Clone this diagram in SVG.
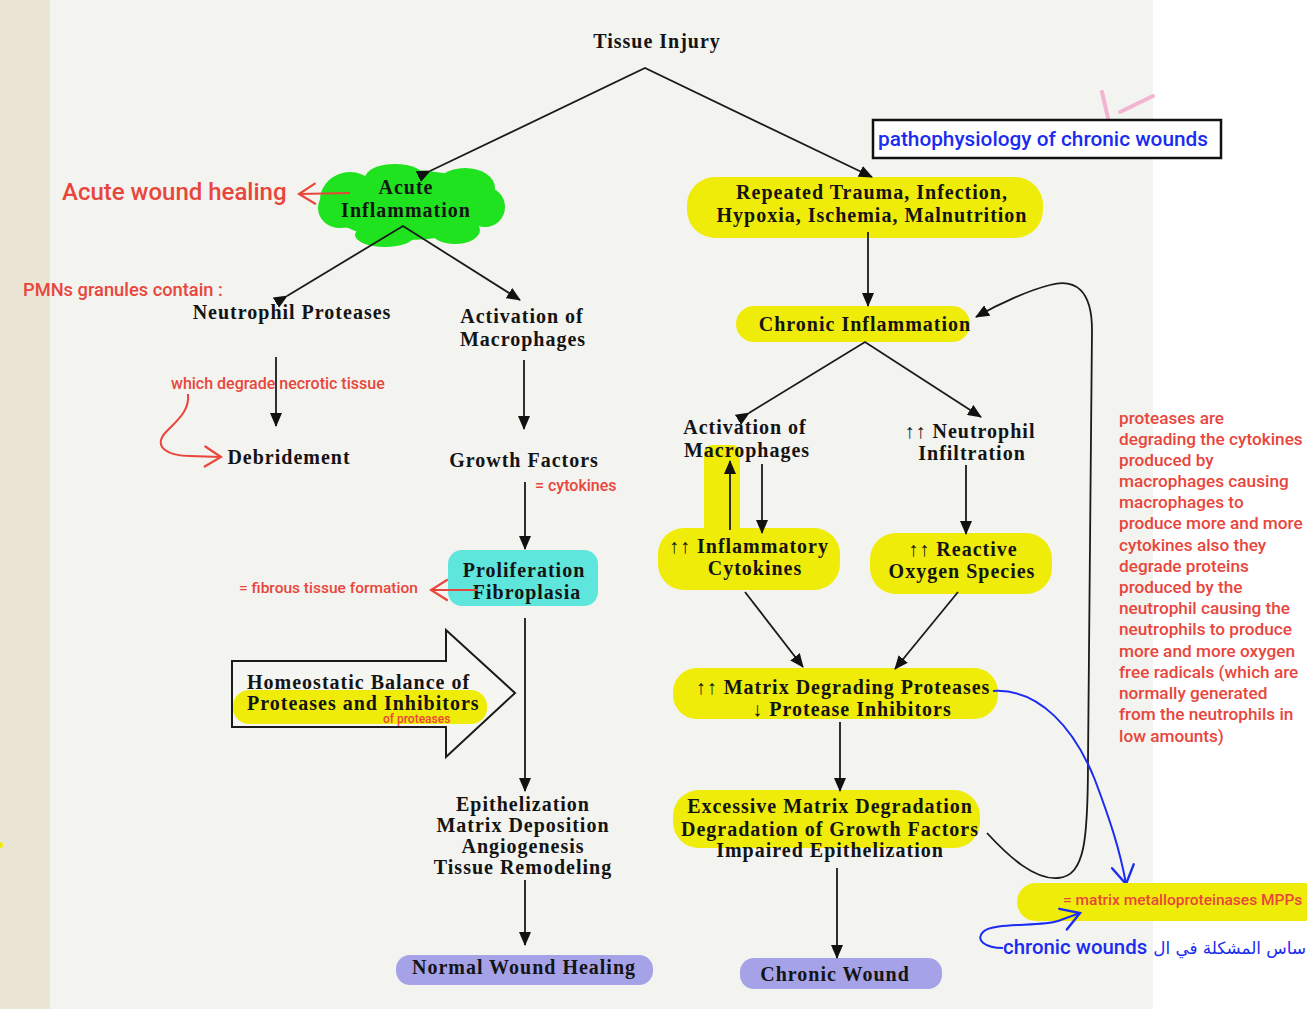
<svg xmlns="http://www.w3.org/2000/svg" width="1307" height="1009" viewBox="0 0 1307 1009">
<style>
.t{font-family:"Liberation Serif","DejaVu Serif",serif;font-weight:bold;font-size:20px;fill:#141414;text-anchor:middle;letter-spacing:1px}
.tl{text-anchor:start}
.ln{stroke:#1a1a1a;stroke-width:1.8;fill:none}
.red{font-family:Roboto,"Liberation Sans",sans-serif;font-weight:500;fill:#e8463c}
.blue{font-family:Roboto,"Liberation Sans",sans-serif;font-weight:500;fill:#1a2cf0}
.yel{fill:#f0ec0a}
.rp{stroke:#e8463c;stroke-width:2;fill:none}
.bp{stroke:#1a2cf0;stroke-width:2;fill:none}
</style>
<defs>
<marker id="ah" viewBox="0 0 14 12" refX="13" refY="6" markerWidth="14" markerHeight="12" orient="auto" markerUnits="userSpaceOnUse"><path d="M0,0 L14,6 L0,12 z" fill="#111"/></marker>
<marker id="ra" viewBox="0 0 20 24" refX="18" refY="12" markerWidth="20" markerHeight="24" orient="auto" markerUnits="userSpaceOnUse"><path d="M2,2 L18,12 L2,22" fill="none" stroke="#e8463c" stroke-width="2.2" stroke-linecap="round"/></marker>
<marker id="ba" viewBox="0 0 22 26" refX="20" refY="13" markerWidth="22" markerHeight="26" orient="auto" markerUnits="userSpaceOnUse"><path d="M2,2 L20,13 L2,24" fill="none" stroke="#1a2cf0" stroke-width="2.4" stroke-linecap="round"/></marker>
</defs>
<rect width="1307" height="1009" fill="#ffffff"/>
<rect x="0" y="0" width="50" height="1009" fill="#ebe5d5"/>
<rect x="50" y="0" width="1103" height="1009" fill="#f3f3ef"/>
<circle cx="0" cy="845" r="3" fill="#f0ec0a"/>
<g opacity="0.7" stroke="#f29ac4" stroke-width="4" fill="none" stroke-linecap="round">
<path d="M1102,92 L1108,118"/><path d="M1120,112 L1153,96"/>
</g>

<g id="tissue-injury"><text class="t" x="657" y="48">Tissue Injury</text></g>

<g id="acute-inflammation">
<g fill="#1fe31f">
<ellipse cx="410" cy="205" rx="82" ry="35"/>
<ellipse cx="350" cy="200" rx="30" ry="28"/><ellipse cx="340" cy="208" rx="22" ry="20"/>
<ellipse cx="395" cy="178" rx="30" ry="14"/><ellipse cx="465" cy="188" rx="30" ry="20"/>
<ellipse cx="485" cy="207" rx="20" ry="20"/><ellipse cx="455" cy="230" rx="25" ry="14"/><ellipse cx="385" cy="235" rx="30" ry="12"/>
</g>
<text class="t" x="406" y="194">Acute</text>
<text class="t" x="406" y="217">Inflammation</text>
</g>

<g id="neutrophil-proteases"><text class="t" x="292" y="319">Neutrophil Proteases</text></g>
<g id="activation-macrophages-1"><text class="t" x="522" y="323">Activation of</text><text class="t" x="523" y="346">Macrophages</text></g>
<g id="debridement"><text class="t" x="289" y="464">Debridement</text></g>
<g id="growth-factors"><text class="t" x="524" y="467">Growth Factors</text></g>
<g id="proliferation">
<rect x="448" y="550" width="150" height="56" rx="14" fill="#5fe6dc"/>
<text class="t" x="524" y="577">Proliferation</text><text class="t" x="527" y="599">Fibroplasia</text>
</g>
<g id="homeostatic">
<path d="M232,661 L446,661 L446,630 L515,693 L446,757 L446,727 L232,727 Z" fill="#f5f5f2" stroke="#1a1a1a" stroke-width="2"/>
<rect x="233" y="690" width="254" height="34" rx="16" class="yel"/>
<text class="t tl" x="247" y="689">Homeostatic Balance of</text>
<text class="t tl" x="247" y="710">Proteases and Inhibitors</text>
<text class="red" x="383" y="723" font-size="12">of proteases</text>
</g>
<g id="epithelization">
<text class="t" x="523" y="811">Epithelization</text>
<text class="t" x="523" y="832">Matrix Deposition</text>
<text class="t" x="523" y="853">Angiogenesis</text>
<text class="t" x="523" y="874">Tissue Remodeling</text>
</g>
<g id="normal-wound-healing">
<rect x="396" y="955" width="257" height="30" rx="14" fill="#a6a2e8"/>
<text class="t" x="524" y="974">Normal Wound Healing</text>
</g>

<g id="title-box">
<rect x="873" y="120" width="348" height="38" fill="#ffffff" stroke="#111" stroke-width="2.5"/>
<text class="blue" x="878" y="146" font-size="20.8">pathophysiology of chronic wounds</text>
</g>
<g id="repeated-trauma">
<rect x="687" y="177" width="356" height="61" rx="28" class="yel"/>
<text class="t" x="872" y="199">Repeated Trauma, Infection,</text>
<text class="t" x="872" y="222">Hypoxia, Ischemia, Malnutrition</text>
</g>
<g id="chronic-inflammation">
<rect x="736" y="306" width="234" height="36" rx="18" class="yel"/>
<text class="t" x="865" y="331">Chronic Inflammation</text>
</g>
<g id="inflammatory-cytokines">
<rect x="704" y="445" width="36" height="100" rx="8" class="yel"/>
<rect x="658" y="528" width="182" height="62" rx="26" class="yel"/>
<text class="t" x="749" y="553">↑↑ Inflammatory</text><text class="t" x="755" y="575">Cytokines</text>
</g>
<g id="activation-macrophages-2"><text class="t" x="745" y="434">Activation of</text><text class="t" x="747" y="457">Macrophages</text></g>
<g id="neutrophil-infiltration"><text class="t" x="970" y="438">↑↑ Neutrophil</text><text class="t" x="972" y="460">Infiltration</text></g>
<g id="reactive-oxygen">
<rect x="870" y="533" width="182" height="61" rx="26" class="yel"/>
<text class="t" x="963" y="556">↑↑ Reactive</text><text class="t" x="962" y="578">Oxygen Species</text>
</g>
<g id="matrix-proteases">
<rect x="673" y="668" width="325" height="51" rx="24" class="yel"/>
<text class="t" x="843" y="694">↑↑ Matrix Degrading Proteases</text><text class="t" x="852" y="716">↓ Protease Inhibitors</text>
</g>
<g id="excessive-degradation">
<rect x="673" y="790" width="307" height="58" rx="26" class="yel"/>
<text class="t" x="830" y="813">Excessive Matrix Degradation</text>
<text class="t" x="830" y="836">Degradation of Growth Factors</text>
<text class="t" x="830" y="857">Impaired Epithelization</text>
</g>
<g id="chronic-wound">
<rect x="740" y="958" width="202" height="31" rx="14" fill="#a6a2e8"/>
<text class="t" x="835" y="981">Chronic Wound</text>
</g>

<g id="connectors">
<path class="ln" d="M430,171 L645,68 L872,177" marker-start="url(#ah)" marker-end="url(#ah)"/>
<path class="ln" d="M287,296 L403,226 L520,300" marker-start="url(#ah)" marker-end="url(#ah)"/>
<line class="ln" x1="276" y1="357" x2="276" y2="426" marker-end="url(#ah)"/>
<line class="ln" x1="524" y1="360" x2="524" y2="429" marker-end="url(#ah)"/>
<line class="ln" x1="525" y1="482" x2="525" y2="549" marker-end="url(#ah)"/>
<line class="ln" x1="525" y1="618" x2="525" y2="791" marker-end="url(#ah)"/>
<line class="ln" x1="525" y1="880" x2="525" y2="945" marker-end="url(#ah)"/>
<line class="ln" x1="868" y1="232" x2="868" y2="306" marker-end="url(#ah)"/>
<path class="ln" d="M749,413 L865,342 L981,417" marker-start="url(#ah)" marker-end="url(#ah)"/>
<line class="ln" x1="730" y1="530" x2="730" y2="461" marker-end="url(#ah)"/>
<line class="ln" x1="762" y1="464" x2="762" y2="533" marker-end="url(#ah)"/>
<line class="ln" x1="966" y1="465" x2="966" y2="534" marker-end="url(#ah)"/>
<line class="ln" x1="745" y1="592" x2="803" y2="667" marker-end="url(#ah)"/>
<line class="ln" x1="958" y1="592" x2="895" y2="669" marker-end="url(#ah)"/>
<line class="ln" x1="840" y1="722" x2="840" y2="791" marker-end="url(#ah)"/>
<line class="ln" x1="837" y1="868" x2="837" y2="958" marker-end="url(#ah)"/>
<path class="ln" d="M987,833 C1010,858 1035,880 1058,878 C1085,876 1088,840 1088,760 L1092,330 C1092,290 1075,278 1050,285 C1030,290 1000,303 976,317" marker-end="url(#ah)"/>
</g>

<g id="annotations">
<path class="rp" d="M350,193 L299,194" marker-end="url(#ra)"/>
<text class="red" x="62" y="200" font-size="24">Acute wound healing</text>
<text class="red" x="23" y="296" font-size="18.3">PMNs granules contain :</text>
<text class="red" x="171" y="389" font-size="16">which degrade necrotic tissue</text>
<path class="rp" d="M188,394 C190,412 175,422 165,433 C153,447 168,456 190,456 L221,457" marker-end="url(#ra)"/>
<text class="red" x="535" y="491" font-size="16">= cytokines</text>
<path class="rp" d="M478,590 L431,590" marker-end="url(#ra)"/>
<text class="red" x="239" y="593" font-size="15.5">= fibrous tissue formation</text>
<g class="red" font-size="17.2">
<text x="1119" y="424">proteases are</text>
<text x="1119" y="445">degrading the cytokines</text>
<text x="1119" y="466">produced by</text>
<text x="1119" y="487">macrophages causing</text>
<text x="1119" y="508">macrophages to</text>
<text x="1119" y="529">produce more and more</text>
<text x="1119" y="551">cytokines also they</text>
<text x="1119" y="572">degrade proteins</text>
<text x="1119" y="593">produced by the</text>
<text x="1119" y="614">neutrophil causing the</text>
<text x="1119" y="635">neutrophils to produce</text>
<text x="1119" y="657">more and more oxygen</text>
<text x="1119" y="678">free radicals (which are</text>
<text x="1119" y="699">normally generated</text>
<text x="1119" y="720">from the neutrophils in</text>
<text x="1119" y="742">low amounts)</text>
</g>
<path class="bp" d="M993,691 C1040,688 1075,730 1095,780 C1110,820 1120,850 1126,884" marker-end="url(#ba)"/>
<rect x="1017" y="883" width="310" height="38" rx="19" class="yel"/>
<text class="red" x="1063" y="905" font-size="15.5" font-weight="bold">= matrix metalloproteinases MPPs</text>
<path class="bp" d="M1003,948 C985,948 975,940 983,932 C992,922 1040,927 1058,921 L1080,913" marker-end="url(#ba)"/>
<text class="blue" x="1003" y="954" font-size="20.4">chronic wounds</text>
<text class="blue" x="1306" y="954" font-size="16.8" direction="rtl" style="font-family:'DejaVu Sans','Noto Sans',sans-serif;font-weight:normal">ساس المشكلة في ال</text>
</g>
</svg>
